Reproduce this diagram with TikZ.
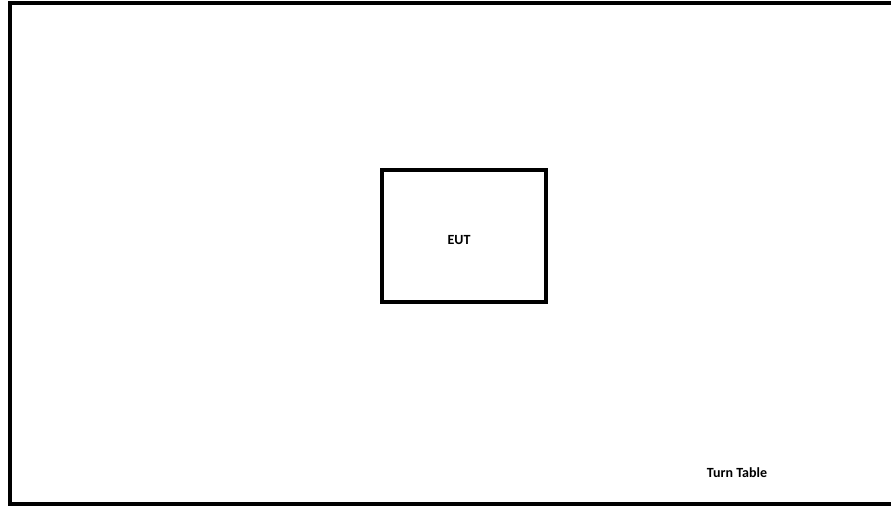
\documentclass[tikz,border=0pt]{standalone}
\usepackage{fontspec}
\setmainfont{Carlito}
\begin{document}
\begin{tikzpicture}[x=1pt,y=1pt,
  boxline/.style={draw=black,line width=4pt},
  lbl/.style={font=\bfseries\fontsize{14}{16}\selectfont,inner sep=0pt}]
\useasboundingbox (0,0) rectangle (891,506);
\begin{scope}
\clip (0,0) rectangle (891,506);
\draw[boxline] (10,2) rectangle (897,502.5);
\end{scope}
\node[boxline,minimum width=164pt,minimum height=132pt,inner sep=0pt] (eut) at (464,270) {};
\node[lbl] (euttext) at (459,266) {EUT};
\node[lbl] (turntable) at (737,33) {Turn Table};
\end{tikzpicture}
\end{document}
